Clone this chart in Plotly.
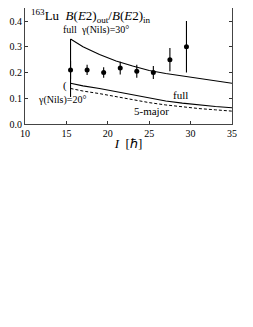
import plotly.graph_objects as go

# Experimental data
spin = [15.5, 17.5, 19.5, 21.5, 23.5, 25.5, 27.5, 29.5]
ratio = [0.21, 0.21, 0.20, 0.217, 0.205, 0.20, 0.25, 0.30]
ratio_err = [0.035, 0.02, 0.02, 0.025, 0.025, 0.025, 0.045, 0.10]

# Calculations
calc_I = [15.5, 17, 19, 21, 23, 25, 27, 29, 31, 33, 35]
full30 = [0.33, 0.300, 0.270, 0.245, 0.225, 0.208, 0.196, 0.186, 0.177, 0.167, 0.158]
full20 = [0.158, 0.148, 0.138, 0.126, 0.113, 0.100, 0.089, 0.081, 0.074, 0.068, 0.063]
major5 = [0.138, 0.128, 0.118, 0.106, 0.094, 0.083, 0.074, 0.066, 0.060, 0.055, 0.050]

# vertical marker at the start
vline_x = [15.5, 15.5]
vline_y = [0.105, 0.33]

yticks = [0.0, 0.1, 0.2, 0.3, 0.4]
yticktext = ["0.0", "0.1", "0.2", "0.3", "0.4"]
xticks = [10, 15, 20, 25, 30, 35]

FONT = "Liberation Serif"
fig = go.Figure()
fig.add_trace(go.Scatter(x=calc_I, y=full30, mode="lines", line=dict(color="black", width=1.1)))
fig.add_trace(go.Scatter(x=calc_I, y=full20, mode="lines", line=dict(color="black", width=1.1)))
fig.add_trace(go.Scatter(x=calc_I, y=major5, mode="lines", line=dict(color="black", width=1.0, dash="3px,2px")))
fig.add_trace(go.Scatter(x=vline_x, y=vline_y, mode="lines", line=dict(color="black", width=1.1)))
fig.add_trace(go.Scatter(x=spin, y=ratio, mode="markers",
                         marker=dict(color="black", size=5),
                         error_y=dict(type="data", array=ratio_err, color="black", thickness=1.1, width=0)))

ann = [
    dict(x=10.5, y=0.418, text="<sup>163</sup>Lu  <i>B</i>(<i>E</i>2)<sub>out</sub>/<i>B</i>(<i>E</i>2)<sub>in</sub>",
         xanchor="left", font=dict(size=13)),
    dict(x=18.6, y=0.365, text="full  γ(Nils)=30°", font=dict(size=10)),
    dict(x=28.8, y=0.112, text="full", font=dict(size=11)),
    dict(x=25.3, y=0.05, text="5-major", font=dict(size=11)),
    dict(x=14.5, y=0.093, text="γ(Nils)=20°", font=dict(size=10)),
    dict(x=14.8, y=0.148, text="(", font=dict(size=11)),
]
for a in ann:
    a.update(xref="x", yref="y", showarrow=False)
    a["font"].update(family=FONT, color="black")

fig.update_layout(
    width=253, height=327,
    margin=dict(l=17, r=29, t=0, b=211),
    paper_bgcolor="white", plot_bgcolor="white",
    showlegend=False,
    font=dict(family=FONT, color="black", size=10),
    annotations=ann,
    xaxis=dict(range=[10, 35], tickvals=xticks, ticks="inside", ticklen=3, tickcolor="#333",
               showline=True, linecolor="#444", linewidth=1, mirror=False, showgrid=False, zeroline=False,
               tickfont=dict(size=10, family=FONT), automargin=False,
               title=dict(text="<i>I</i>  [ℏ]", font=dict(size=13, family=FONT), standoff=0)),
    yaxis=dict(range=[0, 0.4505], tickvals=yticks, ticktext=yticktext, ticks="inside", ticklen=3, tickcolor="#333",
               showline=True, linecolor="#444", linewidth=1, mirror="ticks", showgrid=False, zeroline=False,
               tickfont=dict(size=10, family=FONT), automargin=False),
)
fig.write_html("out.html")
